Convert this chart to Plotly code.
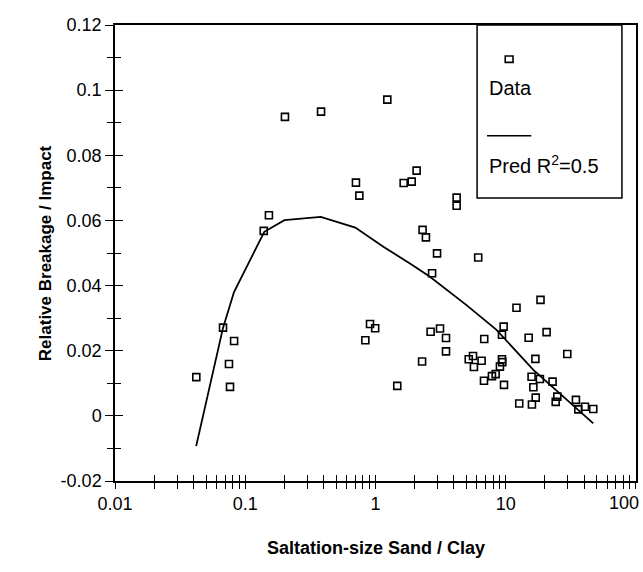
import plotly.graph_objects as go

# ---- data ----
data_x = [0.0421, 0.0675, 0.0821, 0.0750, 0.0764, 0.1387, 0.152, 0.2018, 0.382,
          0.708, 0.752, 1.233, 1.646, 1.897, 2.07, 4.20, 4.20, 2.30, 2.44, 2.97,
          6.15, 2.72, 18.5, 12.1, 0.908, 0.995, 0.836, 2.65, 3.13, 3.48, 3.48,
          2.28, 1.47, 9.64, 9.36, 6.84, 15.0, 20.6, 29.7, 16.9, 5.20, 5.61, 6.53,
          5.70, 9.36, 9.41, 9.03, 8.37, 7.84, 6.81, 9.70, 15.8, 18.3, 22.9, 16.3,
          17.0, 24.9, 24.2, 12.7, 15.9, 34.6, 40.6, 36.1, 47.0]
data_y = [0.0119, 0.0271, 0.0230, 0.0159, 0.0089, 0.0568, 0.0616, 0.0918, 0.0934,
          0.0716, 0.0676, 0.0971, 0.0715, 0.0719, 0.0753, 0.0670, 0.0645, 0.0571,
          0.0548, 0.0499, 0.0486, 0.0438, 0.0356, 0.0332, 0.0282, 0.0269, 0.0232,
          0.0258, 0.0268, 0.0239, 0.0198, 0.0167, 0.0092, 0.0274, 0.0249, 0.0236,
          0.0240, 0.0257, 0.0190, 0.0175, 0.0174, 0.0184, 0.0169, 0.0150, 0.0174,
          0.0165, 0.0151, 0.0128, 0.0122, 0.0108, 0.0095, 0.0120, 0.0113, 0.0105,
          0.0088, 0.0056, 0.0059, 0.0043, 0.0038, 0.0035, 0.0049, 0.0028, 0.0020,
          0.0021]

pred_x = [0.042, 0.0675, 0.082, 0.14, 0.20, 0.38, 0.70, 1.15, 1.84, 2.62, 5.0,
          8.5, 16.3, 30, 47]
pred_y = [-0.0093, 0.027, 0.038, 0.0565, 0.0601, 0.0611, 0.0578, 0.0519, 0.0468,
          0.0427, 0.034, 0.0264, 0.0141, 0.0047, -0.0023]

x_major = [0.01, 0.1, 1, 10]
x_major_text = ["0.01", "0.1", "1", "10"]
x_last_label = "100"
x_minor = [d * 10 ** e for e in (-2, -1, 0, 1) for d in range(2, 10)]
y_tickvals = [-0.02, 0, 0.02, 0.04, 0.06, 0.08, 0.1, 0.12]
y_ticktext = ["-0.02", "0", "0.02", "0.04", "0.06", "0.08", "0.1", "0.12"]

FONT = "Liberation Sans, Arial, sans-serif"
X_RANGE = [-2, 2.0004]
Y_RANGE = [-0.02, 0.12]

fig = go.Figure()
fig.add_trace(go.Scatter(x=data_x, y=data_y, mode="markers", name="Data",
                         marker=dict(symbol="square-open", size=7, color="black",
                                     line=dict(width=1.6, color="black")),
                         showlegend=False))
fig.add_trace(go.Scatter(x=pred_x, y=pred_y, mode="lines", name="Pred R<sup>2</sup>=0.5",
                         line=dict(color="black", width=1.8), showlegend=False))
# empty trace for overlay axes (ticks crossing the axis line)
fig.add_trace(go.Scatter(x=[], y=[], xaxis="x2", yaxis="y2", showlegend=False,
                         hoverinfo="skip"))

all_x_ticks = sorted(x_major + x_minor + [100])

fig.update_layout(
    width=643, height=572,
    margin=dict(l=115, r=7, t=25, b=91, autoexpand=False),
    paper_bgcolor="white", plot_bgcolor="white",
    font=dict(family=FONT, color="black", size=18),
    xaxis=dict(type="log", range=X_RANGE, tickvals=x_major, ticktext=x_major_text,
               ticks="outside", ticklen=6, tickwidth=1, tickcolor="black",
               automargin=False,
               showline=True, linecolor="black", linewidth=1.5, mirror=True,
               showgrid=False, zeroline=False,
               minor=dict(tickvals=x_minor + [100], ticks="outside", ticklen=6,
                          tickcolor="black", tickwidth=1, showgrid=False),
               tickfont=dict(size=18, family=FONT)),
    yaxis=dict(range=Y_RANGE, tickvals=y_tickvals, ticktext=y_ticktext,
               ticks="outside", ticklen=8, tickwidth=1, tickcolor="black",
               showline=True, linecolor="black", linewidth=1.5, mirror=True,
               showgrid=False, zeroline=False, automargin=False,
               minor=dict(dtick=0.01, tick0=0, ticks="outside", ticklen=6,
                          tickcolor="black", tickwidth=1),
               tickfont=dict(size=18, family=FONT)),
    xaxis2=dict(type="log", range=X_RANGE, tickvals=all_x_ticks,
                overlaying="x", anchor="y2", side="bottom", automargin=False,
                ticks="inside", ticklen=6, tickwidth=1, tickcolor="black",
                showticklabels=False, showline=False, showgrid=False,
                zeroline=False),
    yaxis2=dict(range=Y_RANGE, tickvals=y_tickvals, overlaying="y", anchor="x2",
                side="left", ticks="inside", ticklen=8, tickwidth=1,
                automargin=False,
                tickcolor="black", showticklabels=False, showline=False,
                showgrid=False, zeroline=False,
                minor=dict(dtick=0.01, tick0=0, ticks="inside", ticklen=6,
                           tickcolor="black", tickwidth=1)),
)

# last x tick label, pulled inside the page like the reference
fig.add_annotation(text=x_last_label, xref="paper", yref="paper", x=1.0, y=0,
                   xanchor="right", yanchor="top", xshift=5, yshift=-10,
                   showarrow=False, font=dict(size=18, family=FONT))

# axis titles
fig.add_annotation(text="<b>Saltation-size Sand / Clay</b>", xref="paper", yref="paper",
                   x=0.5, y=-0.147, showarrow=False, xanchor="center", yanchor="middle",
                   font=dict(size=18, family=FONT))
fig.add_annotation(text="<b>Relative Breakage / Impact</b>", xref="paper", yref="paper",
                   x=-0.134, y=0.5, showarrow=False, textangle=-90,
                   xanchor="center", yanchor="middle", font=dict(size=17, family=FONT))

# custom legend box
fig.add_shape(type="rect", xref="paper", yref="paper", x0=0.695, x1=0.973,
              y0=0.6206, y1=1.0, line=dict(color="black", width=1.5),
              fillcolor="white", layer="below")
fig.add_shape(type="rect", xref="paper", yref="paper", x0=0.749, x1=0.764,
              y0=0.918, y1=0.932, line=dict(color="black", width=1.6))
fig.add_annotation(text="Data", xref="paper", yref="paper", x=0.714, y=0.862,
                   xanchor="left", yanchor="middle", showarrow=False,
                   font=dict(size=20, family=FONT))
fig.add_shape(type="line", xref="paper", yref="paper", x0=0.714, x1=0.799,
              y0=0.757, y1=0.757, line=dict(color="black", width=1.5))
fig.add_annotation(text="Pred R<sup>2</sup>=0.5", xref="paper", yref="paper",
                   x=0.714, y=0.693, xanchor="left", yanchor="middle",
                   showarrow=False, font=dict(size=20, family=FONT))

fig.write_html("out.html")
